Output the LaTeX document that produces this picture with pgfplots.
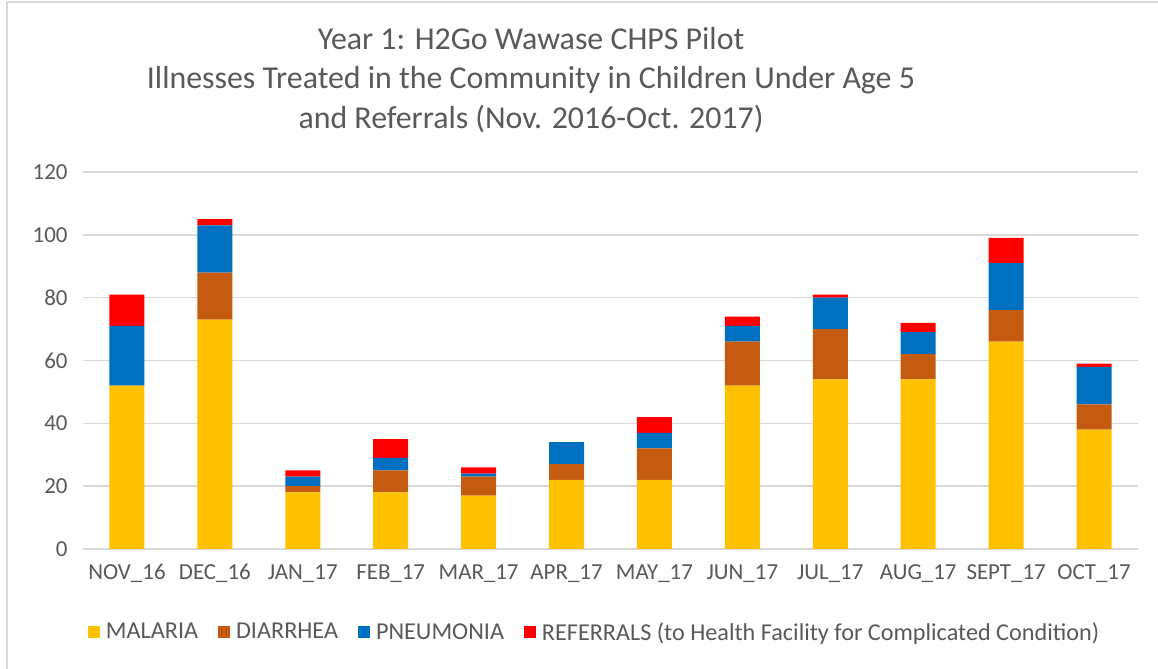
\documentclass[border=0pt]{standalone}
\usepackage{fontspec}
\setmainfont{Carlito}
\usepackage{pgfplots}
\pgfplotsset{compat=1.18}

\definecolor{malaria}{HTML}{FFC000}
\definecolor{diarrhea}{HTML}{C55A11}
\definecolor{pneumonia}{HTML}{0070C0}
\definecolor{referrals}{HTML}{FF0000}
\definecolor{txt}{HTML}{595959}
\definecolor{gridcol}{HTML}{D9D9D9}

\begin{document}
\begin{tikzpicture}
\path[use as bounding box] (0,0) rectangle (1158bp,669bp);
\fill[white] (0,0) rectangle (1158bp,669bp);
\draw[gridcol, line width=1.5bp] (7bp,0) -- (7bp,667bp) -- (1158bp,667bp);
\node[align=center, text=txt, font=\fontsize{32}{39.5}\selectfont] at (531bp,589bp)
  {Year 1: H2Go Wawase CHPS Pilot\\
   Illnesses Treated in the Community in Children Under Age 5\\
   and Referrals (Nov. 2016-Oct. 2017)};
\begin{axis}[
    at={(83bp,120bp)}, anchor=south west,
    scale only axis, width=1055bp, height=377bp,
    ybar stacked, bar width=35bp,
    xmin=-0.5, xmax=11.5, ymin=0, ymax=120,
    xtick={0,...,11}, ytick={0,20,...,120},
    xticklabels={NOV\_16, DEC\_16, JAN\_17, FEB\_17, MAR\_17, APR\_17, MAY\_17, JUN\_17, JUL\_17, AUG\_17, SEPT\_17, OCT\_17},
    axis line style={draw=none},
    major tick length=0pt,
    ymajorgrids, grid style={gridcol, line width=1.4bp},
    tick label style={font=\fontsize{23}{28}\selectfont, text=txt},
    yticklabel style={xshift=-12bp},
    xticklabel style={yshift=-12bp},
    /pgf/number format/assume math mode=true,
    legend columns=-1,
    legend style={draw=none, at={(axis description cs:0.485,-0.22)}, anchor=center,
        font=\fontsize{24.3}{29}\selectfont, text=txt,
        /tikz/every even column/.append style={column sep=18bp}},
    legend image code/.code={\fill[#1, draw=none] (0bp,-6bp) rectangle (12bp,6bp); \path (16bp,0bp);},
]
\addplot[fill=malaria, draw=none] coordinates {
    (0,52) (1,73) (2,18) (3,18) (4,17) (5,22) (6,22) (7,52) (8,54) (9,54) (10,66) (11,38)};
\addplot[fill=diarrhea, draw=none] coordinates {
    (0,0) (1,15) (2,2) (3,7) (4,6) (5,5) (6,10) (7,14) (8,16) (9,8) (10,10) (11,8)};
\addplot[fill=pneumonia, draw=none] coordinates {
    (0,19) (1,15) (2,3) (3,4) (4,1) (5,7) (6,5) (7,5) (8,10) (9,7) (10,15) (11,12)};
\addplot[fill=referrals, draw=none] coordinates {
    (0,10) (1,2) (2,2) (3,6) (4,2) (5,0) (6,5) (7,3) (8,1) (9,3) (10,8) (11,1)};
\legend{MALARIA, DIARRHEA, PNEUMONIA, REFERRALS (to Health Facility for Complicated Condition)}
\end{axis}
\end{tikzpicture}
\end{document}
